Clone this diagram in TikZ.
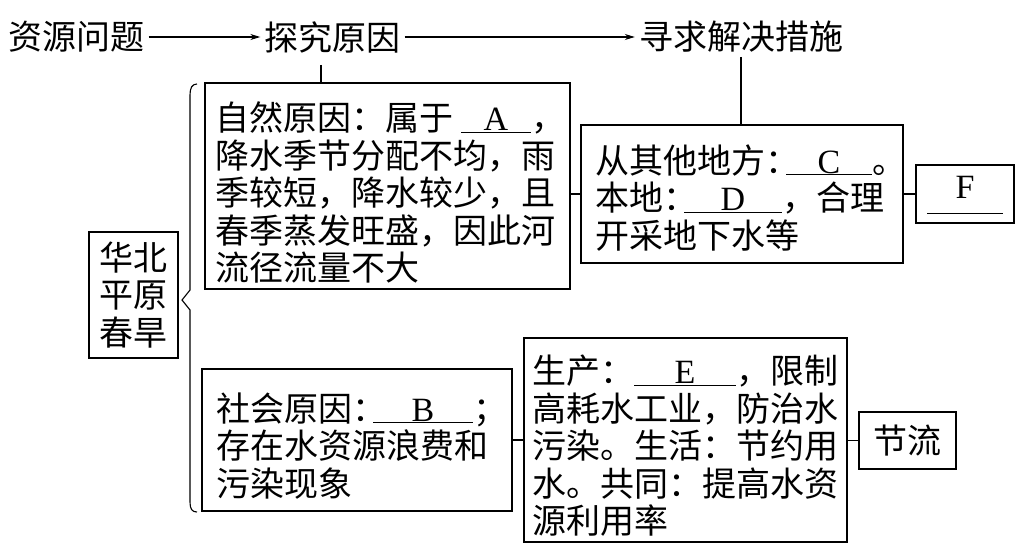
\documentclass[tikz,border=0pt]{standalone}
\usepackage{fontspec}
\setmainfont{Noto Sans CJK SC}
\newfontfamily\latinf{Liberation Serif}
\usetikzlibrary{arrows.meta,calc}
\newcommand{\blank}[2]{\makebox[#1pt][c]{\latinf #2}\llap{\rule[-2pt]{#1pt}{0.9pt}}}
\newcommand{\hc}{\makebox[17pt][l]{：}}
\tikzset{
 box/.style={draw, line width=1.1pt, inner ysep=0pt, align=left, font=\fontsize{34pt}{37.5pt}\selectfont},
 lbl/.style={inner sep=4pt, font=\fontsize{34pt}{37.5pt}\selectfont},
 conn/.style={line width=1.1pt},
 arr/.style={line width=1.1pt, -{Stealth[length=10pt,width=6pt]}}
}
\begin{document}
\begin{tikzpicture}[x=1pt,y=-1pt]
\useasboundingbox (0,0) rectangle (1033,549);
% top row
\node[lbl] (res) at (76.5,37) {资源问题};
\node[lbl] (exp) at (332.5,37) {探究原因};
\node[lbl] (seek) at (741,37) {寻求解决措施};
\draw[arr] (res) -- (exp);
\draw[arr] (exp) -- (seek);
% boxes
\node[box, inner xsep=10pt, text width=345pt, minimum height=206pt] (nat) at (387.5,186)
 {\rule{0pt}{42pt}自然原因：属于\kern8pt\blank{70}{A}，\\降水季节分配不均，雨\\季较短，降水较少，且\\春季蒸发旺盛，因此河\\流径流量不大};
\node[box, inner xsep=14pt, text width=294pt, minimum height=138pt] (cd) at (742,194)
 {\rule{0pt}{36pt}从其他地方\hc\kern4pt\blank{86}{C}。\\本地\hc\kern4pt\blank{98}{D}，合理\\开采地下水等};
\node[box, minimum width=98pt, minimum height=58pt] (fbox) at (965,194) {};
\node[lbl, font=\latinf\fontsize{34pt}{37.5pt}\selectfont] (ftxt) at (965,187) {F};
\draw[line width=0.9pt] ($(fbox.south west)+(12,-10)$) -- ($(fbox.south east)+(-12,-10)$);
\node[box, inner xsep=14pt, text width=282pt, minimum height=142pt] (soc) at (357,440)
 {\rule{0pt}{40pt}社会原因\hc\kern4pt\blank{100}{B}；\\存在水资源浪费和\\污染现象};
\node[box, inner xsep=8pt, text width=307pt, minimum height=204pt] (eb) at (685.5,440)
 {\rule{0pt}{40pt}生产：\blank{102}{E}，限制\\高耗水工业，防治水\\污染。生活：节约用\\水。共同：提高水资\\源利用率};
\node[box, align=center, minimum width=97pt, minimum height=57pt] (jl) at (907.5,440.5) {节流};
\node[box, align=center, inner xsep=10pt, minimum width=89pt, minimum height=126pt] (hb) at (133.5,295) {华北\\平原\\春旱};
% connectors
\coordinate (vx) at (321,0);
\draw[conn] ([yshift=-8pt]exp.south -| vx) -- (nat.north -| vx);
\draw[conn] (seek.south) -- (seek.south |- cd.north);
\draw[conn] (cd.west -| nat.east) -- (cd.west);
\draw[conn] (cd.east) -- (fbox.west);
\draw[conn] (soc.east) -- (eb.west);
\draw[conn] (eb.east |- jl.west) -- (jl.west);
% brace
\draw[conn] (197,84) .. controls (192,84) and (190,88) .. (190,95) -- (190,290) -- (182,300) -- (190,310) -- (190,502) .. controls (190,509) and (192,512) .. (197,512);
\end{tikzpicture}
\end{document}
